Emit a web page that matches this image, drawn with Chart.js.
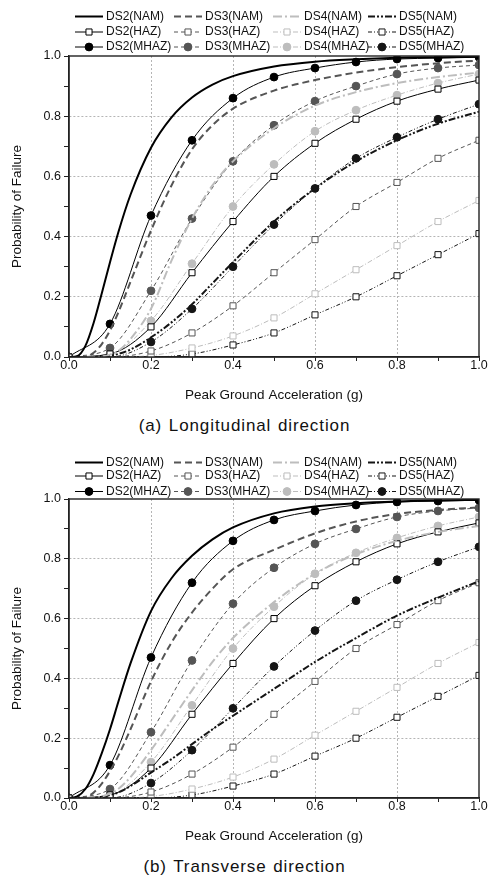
<!DOCTYPE html>
<html>
<head>
<meta charset="utf-8">
<script src="https://cdn.jsdelivr.net/npm/chart.js@4.4.0/dist/chart.umd.min.js"></script>
<style>
  body { margin: 0; background: #fff; width: 489px; height: 877px; overflow: hidden; position: relative; }
  canvas { position: absolute; left: 0; }
  #c1 { top: 0; }
  #c2 { top: 440px; }
  .cap { position: absolute; left: 0; width: 489px; text-align: center; font: 17px "Liberation Sans", Arial, sans-serif; letter-spacing: 0.9px; word-spacing: 1px; color: #111; line-height: 20px; }
</style>
</head>
<body>
<canvas id="c1" width="489" height="412"></canvas>
<div class="cap" style="top:416px">(a) Longitudinal direction</div>
<canvas id="c2" width="489" height="413"></canvas>
<div class="cap" style="top:857px">(b) Transverse direction</div>

<script>
// PGA points used for the HAZ / MHAZ curves (same in both directions)
const pga = [0, 0.1, 0.2, 0.3, 0.4, 0.5, 0.6, 0.7, 0.8, 0.9, 1.0];

const ds2Haz = [0, 0.01, 0.10, 0.28, 0.45, 0.60, 0.71, 0.79, 0.85, 0.89, 0.92];
const ds3Haz = [0, 0.00, 0.02, 0.08, 0.17, 0.28, 0.39, 0.50, 0.58, 0.66, 0.72];
const ds4Haz = [0, 0.00, 0.005, 0.03, 0.07, 0.13, 0.21, 0.29, 0.37, 0.45, 0.52];
const ds5Haz = [0, 0.00, 0.00, 0.01, 0.04, 0.08, 0.14, 0.20, 0.27, 0.34, 0.41];

const ds2Mhaz = [0, 0.11, 0.47, 0.72, 0.86, 0.93, 0.96, 0.98, 0.99, 0.993, 0.996];
const ds3Mhaz = [0, 0.03, 0.22, 0.46, 0.65, 0.77, 0.85, 0.90, 0.94, 0.96, 0.97];
const ds4Mhaz = [0, 0.01, 0.12, 0.31, 0.50, 0.64, 0.75, 0.82, 0.87, 0.91, 0.94];
const ds5Mhaz = [0, 0.00, 0.05, 0.16, 0.30, 0.44, 0.56, 0.66, 0.73, 0.79, 0.84];

// PGA points
const namPga = [0, 0.02, 0.04, 0.06, 0.08, 0.1, 0.12, 0.15, 0.2, 0.25, 0.3, 0.35, 0.4, 0.5, 0.6, 0.7, 0.8, 0.9, 1.0];

// (a) longitudinal
const ds2NamLong = [0, 0.003, 0.037, 0.113, 0.212, 0.315, 0.413, 0.539, 0.695, 0.796, 0.862, 0.905, 0.933, 0.965, 0.981, 0.989, 0.994, 0.996, 0.998];
const ds3NamLong = [0, 0, 0.001, 0.014, 0.043, 0.088, 0.147, 0.25, 0.42, 0.57, 0.69, 0.77, 0.825, 0.885, 0.92, 0.945, 0.963, 0.976, 0.985];
const ds4NamLong = [0, 0, 0, 0, 0.002, 0.008, 0.02, 0.06, 0.16, 0.32, 0.46, 0.57, 0.65, 0.76, 0.835, 0.88, 0.91, 0.93, 0.945];
const ds5NamLong = [0, 0, 0, 0, 0.001, 0.004, 0.01, 0.025, 0.065, 0.115, 0.175, 0.245, 0.315, 0.45, 0.56, 0.65, 0.72, 0.775, 0.815];

// (b) transverse
const ds2NamTrans = [0, 0.005, 0.03, 0.08, 0.15, 0.23, 0.32, 0.45, 0.625, 0.735, 0.81, 0.865, 0.905, 0.952, 0.975, 0.986, 0.992, 0.995, 0.997];
const ds3NamTrans = [0, 0, 0.003, 0.018, 0.048, 0.09, 0.14, 0.23, 0.39, 0.52, 0.62, 0.70, 0.765, 0.83, 0.885, 0.925, 0.95, 0.963, 0.972];
const ds4NamTrans = [0, 0, 0, 0.001, 0.005, 0.015, 0.03, 0.07, 0.16, 0.26, 0.36, 0.455, 0.535, 0.655, 0.75, 0.815, 0.86, 0.89, 0.91];
const ds5NamTrans = [0, 0, 0, 0, 0.002, 0.01, 0.018, 0.04, 0.085, 0.13, 0.18, 0.23, 0.275, 0.365, 0.455, 0.535, 0.61, 0.67, 0.725];

const stateNames = ['DS2', 'DS3', 'DS4', 'DS5'];
const typeNames = ['NAM', 'HAZ', 'MHAZ'];
const xTicksLabels = ['0.0', '0.2', '0.4', '0.6', '0.8', '1.0'];

const FONT = '"Liberation Sans", Arial, sans-serif';
const dsColor = ['#000000', '#555555', '#bdbdbd', '#151515'];
const thickDash = [[], [7, 4], [9, 3, 2, 3], [7, 2, 2, 2, 2, 2]];
const thinDash = [[], [4, 3], [5, 2, 1, 2], [4, 2, 1, 2, 1, 2]];

function pts(xs, ys) {
  return xs.map((x, k) => ({ x: x, y: ys[k] }));
}

function buildDatasets(nam) {
  const haz = [ds2Haz, ds3Haz, ds4Haz, ds5Haz];
  const mhaz = [ds2Mhaz, ds3Mhaz, ds4Mhaz, ds5Mhaz];
  const out = [];
  nam.forEach((vals, i) => out.push({
    label: stateNames[i] + '(' + typeNames[0] + ')', data: pts(namPga, vals),
    borderColor: dsColor[i], borderWidth: 2, borderDash: thickDash[i],
    pointRadius: 0, cubicInterpolationMode: 'monotone'
  }));
  haz.forEach((vals, i) => out.push({
    label: stateNames[i] + '(' + typeNames[1] + ')', data: pts(pga, vals),
    borderColor: dsColor[i], borderWidth: 1, borderDash: thinDash[i],
    pointStyle: 'rect', pointRadius: 4.3, pointBackgroundColor: '#fff',
    pointBorderColor: dsColor[i], pointBorderWidth: 1, cubicInterpolationMode: 'monotone'
  }));
  mhaz.forEach((vals, i) => out.push({
    label: stateNames[i] + '(' + typeNames[2] + ')', data: pts(pga, vals),
    borderColor: dsColor[i], borderWidth: 1, borderDash: thinDash[i],
    pointStyle: 'circle', pointRadius: 3.9, pointBackgroundColor: dsColor[i],
    pointBorderColor: dsColor[i], pointBorderWidth: 1, cubicInterpolationMode: 'monotone'
  }));
  return out;
}

const legendCols = [75, 174, 273, 368];

// legend drawn as line samples (with marker) in 3 rows x 4 columns
const lineLegend = {
  id: 'lineLegend',
  afterDraw(chart, args, opts) {
    const ctx = chart.ctx;
    const top = chart.chartArea.top;
    chart.data.datasets.forEach((ds, i) => {
      const row = Math.floor(i / 4), col = i % 4;
      const y = top + opts.rows[row];
      const x0 = legendCols[col], x1 = x0 + 28;
      ctx.save();
      ctx.strokeStyle = ds.borderColor;
      ctx.lineWidth = ds.borderWidth;
      ctx.setLineDash(ds.borderDash);
      ctx.beginPath();
      ctx.moveTo(x0, y);
      ctx.lineTo(x1, y);
      ctx.stroke();
      ctx.setLineDash([]);
      if (ds.pointRadius) {
        const cx = (x0 + x1) / 2;
        ctx.lineWidth = 1;
        ctx.strokeStyle = ds.pointBorderColor;
        ctx.fillStyle = ds.pointBackgroundColor;
        ctx.beginPath();
        if (ds.pointStyle === 'rect') {
          const s = ds.pointRadius * Math.SQRT1_2;
          ctx.rect(cx - s, y - s, 2 * s, 2 * s);
        } else {
          ctx.arc(cx, y, ds.pointRadius, 0, Math.PI * 2);
        }
        ctx.fill();
        ctx.stroke();
      }
      ctx.fillStyle = '#111';
      ctx.font = '12px ' + FONT;
      ctx.textBaseline = 'middle';
      ctx.fillText(ds.label, x1 + 3, y);
      ctx.restore();
    });
  }
};

const frame = {
  id: 'frame',
  afterDraw(chart) {
    const { left, top, right, bottom } = chart.chartArea;
    const ctx = chart.ctx;
    ctx.save();
    ctx.strokeStyle = '#222';
    ctx.lineWidth = 1.4;
    ctx.strokeRect(left, top, right - left, bottom - top);
    ctx.restore();
  }
};

function isMajor(v) {
  return Math.round(v * 10) % 2 === 0;
}

function axisOpts(horizontal) {
  return {
    type: 'linear', min: 0, max: 1,
    ticks: {
      stepSize: 0.1, autoSkip: false, color: '#111',
      font: { family: FONT, size: 12.5, lineHeight: 1 },
      padding: horizontal ? -2 : 3,
      callback: v => {
        if (!isMajor(v)) return '';
        const s = v.toFixed(1);
        return horizontal ? (xTicksLabels.includes(s) ? s : '') : s;
      }
    },
    grid: {
      color: c => (c.tick && isMajor(c.tick.value) && c.tick.value > 0.01 && c.tick.value < 0.99) ? '#b5b5b5' : 'rgba(0,0,0,0)',
      lineWidth: 1,
      tickColor: '#222',
      tickLength: horizontal ? 4 : 5,
      tickWidth: 1
    },
    border: { display: true, color: '#222', width: 1.4, dash: c => c.type === 'tick' ? [2, 2] : [] },
    title: {
      display: true,
      text: horizontal ? 'Peak Ground Acceleration (g)' : 'Probability of Failure',
      color: '#111',
      font: { family: FONT, size: 13.5 },
      padding: horizontal ? { top: 0, bottom: 9 } : { top: 9, bottom: 0 }
    },
    afterFit: horizontal ? (s => { s.height = 55; }) : (s => { s.width = 69; })
  };
}

function makeChart(id, nam, padTop, rows) {
  return new Chart(document.getElementById(id), {
    type: 'line',
    data: { datasets: buildDatasets(nam) },
    options: {
      responsive: false,
      animation: false,
      devicePixelRatio: 1,
      layout: { padding: { top: padTop, left: 0, right: 10, bottom: 0 } },
      scales: { x: axisOpts(true), y: axisOpts(false) },
      plugins: {
        legend: { display: false },
        tooltip: { enabled: false },
        lineLegend: { rows: rows }
      }
    },
    plugins: [lineLegend, frame]
  });
}

makeChart('c1', [ds2NamLong, ds3NamLong, ds4NamLong, ds5NamLong], 56, [-39.5, -24, -9]);
makeChart('c2', [ds2NamTrans, ds3NamTrans, ds4NamTrans, ds5NamTrans], 59, [-36.5, -23, -7.5]);
</script>
</body>
</html>
